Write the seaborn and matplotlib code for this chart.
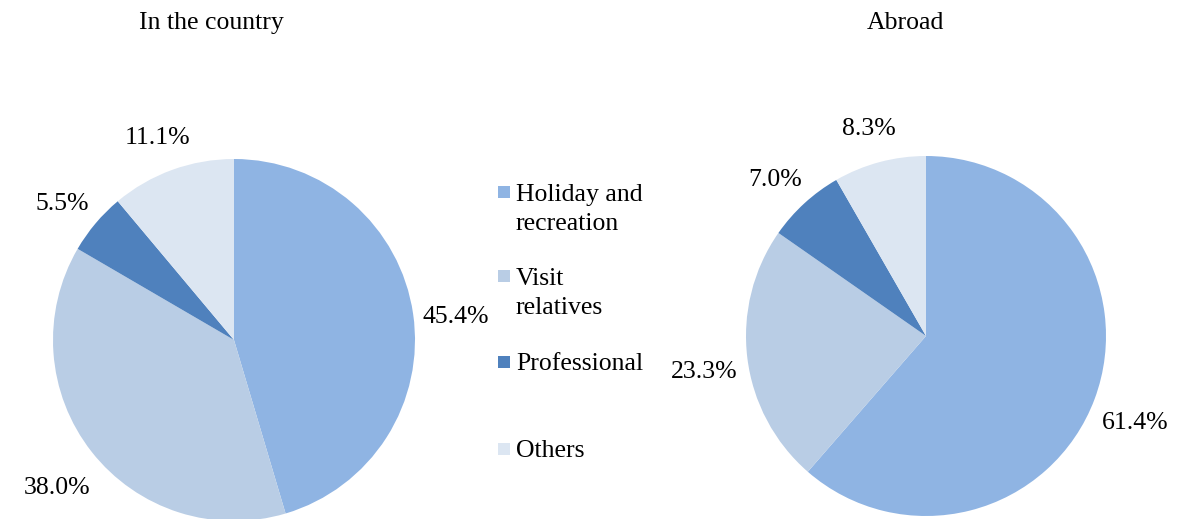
"""Travel purpose shares: trips in the country vs. abroad, as two pies."""

import matplotlib.pyplot as plt
import seaborn as sns
from matplotlib.patches import Rectangle

categories = ["Holiday and\nrecreation", "Visit\nrelatives", "Professional", "Others"]
in_country = [45.4, 38.0, 5.5, 11.1]
abroad = [61.4, 23.3, 7.0, 8.3]
titles = ["In the country", "Abroad"]

colors = sns.color_palette(["#8FB4E3", "#B9CDE5", "#4F81BD", "#DCE6F2"])

sns.set_theme(style="white")
plt.rcParams["font.family"] = ["Liberation Serif", "DejaVu Serif"]
plt.rcParams["text.color"] = "black"

W, H = 1179, 519
FS = 18.5
fig = plt.figure(figsize=(W / 100, H / 100), dpi=100)


def draw_pie(values, cx, cy, r, title, title_x):
    """Place a pie with centre (cx, cy) and radius r given in pixels from top-left."""
    ax = fig.add_axes([(cx - r) / W, (H - cy - r) / H, 2 * r / W, 2 * r / H])
    _, _, autotexts = ax.pie(
        values,
        colors=colors,
        startangle=90,
        counterclock=False,
        autopct="%.1f%%",
        pctdistance=1.24,
        wedgeprops=dict(linewidth=0),
        textprops=dict(fontsize=FS, color="black"),
    )
    # labels sit a little lower than the wedge mid-line, like the spreadsheet does
    for t in autotexts:
        x, y = t.get_position()
        t.set_position((x, y - 9 / r))
    ax.set_xlim(-1, 1)
    ax.set_ylim(-1, 1)
    ax.set_aspect("equal")
    fig.text(title_x / W, 1 - 23 / H, title, ha="center", va="center", fontsize=FS)
    return ax


draw_pie(in_country, 234, 340, 181, titles[0], 211)
draw_pie(abroad, 926, 336, 180, titles[1], 905)

# legend drawn by hand so the swatch lines up with the first line of each label
line_step = 30
legend_baselines = [200, 284, 370, 457]
for label, color, base in zip(categories, colors, legend_baselines):
    fig.add_artist(Rectangle((498 / W, 1 - (base - 2) / H), 12 / W, 12 / H,
                             transform=fig.transFigure, facecolor=color, linewidth=0))
    last_base = base + label.count("\n") * line_step
    fig.text(516 / W, 1 - last_base / H, label, ha="left", va="baseline",
             fontsize=FS, linespacing=1.44)

fig.savefig("out.png", dpi=100)
